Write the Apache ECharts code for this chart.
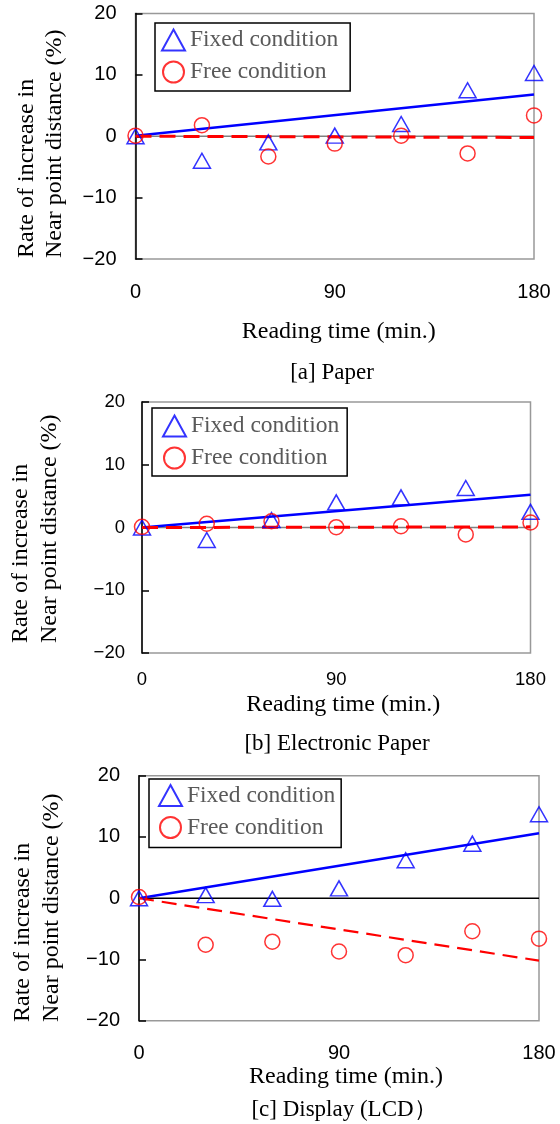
<!DOCTYPE html>
<html>
<head>
<meta charset="utf-8">
<script src="https://cdn.jsdelivr.net/npm/echarts@6/dist/echarts.min.js"></script>
<style>
html,body{margin:0;padding:0;background:#fff;}
#chart{width:560px;height:1124px;}
</style>
</head>
<body>
<div id="chart"></div>
<script>
// ---- data ----
const times = [0, 30, 60, 90, 120, 150, 180];
const trendTimes = [0, 180];
const zeroValues = [0, 0];
const seriesNames = ['Fixed condition', 'Free condition'];
const xTitle = 'Reading time (min.)';
const yTitle = ['Rate of increase in', 'Near point distance (%)'];
const panelCaptions = ['[a] Paper', '[b] Electronic Paper', '[c] Display (LCD\uFF09'];

const paperFixed = [0, -4.0, -1.0, 0.1, 2.0, 7.5, 10.3];
const paperFree = [0.1, 1.8, -3.3, -1.2, 0.1, -2.8, 3.4];
const paperFixedTrend = [0.1, 6.8];
const paperFreeTrend = [0, -0.2];

const ePaperFixed = [0, -2.0, 1.2, 4.0, 4.8, 6.3, 2.5];
const ePaperFree = [0.1, 0.6, 1.0, 0.05, 0.2, -1.1, 0.8];
const ePaperFixedTrend = [0, 5.2];
const ePaperFreeTrend = [0, 0.1];

const lcdFixed = [0, 0.5, -0.1, 1.6, 6.2, 8.9, 13.7];
const lcdFree = [0.2, -7.6, -7.1, -8.7, -9.3, -5.4, -6.6];
const lcdFixedTrend = [0, 10.6];
const lcdFreeTrend = [0, -10.2];

const xMin = 0, xMax = 180, xInterval = 90;
const yMin = -20, yMax = 20, yInterval = 10;

const panelData = [
  {fixed: paperFixed, free: paperFree, fixedTrend: paperFixedTrend, freeTrend: paperFreeTrend},
  {fixed: ePaperFixed, free: ePaperFree, fixedTrend: ePaperFixedTrend, freeTrend: ePaperFreeTrend},
  {fixed: lcdFixed, free: lcdFree, fixedTrend: lcdFixedTrend, freeTrend: lcdFreeTrend}
];

// ---- layout / style ----
const SERIF = 'Liberation Serif, Times New Roman, serif';
const SANS = 'Liberation Sans, Arial, sans-serif';
const BLUE = '#0000ff', RED = '#ff0000';
const layout = [
  {grid: {left: 135.5, top: 13.5, width: 398.5, height: 245.5}, tickFont: 20, yMargin: 19, xMargin: 23,
   xNameGap: 61, xNamePad: 8, zeroColor: '#808080', freeWidth: 3, freeDash: [16, 8],
   legend: {left: 155, top: 23, padding: [5, 12, 7, 6]},
   yTitle: {x: 41, y: 258, lh: 28}, caption: {x: 332, y: 373}},
  {grid: {left: 142, top: 402, width: 388.5, height: 251}, tickFont: 18.5, yMargin: 17, xMargin: 17,
   xNameGap: 40, xNamePad: 14, zeroColor: '#808080', freeWidth: 3, freeDash: [16, 8],
   legend: {left: 152, top: 408, padding: [6, 8, 6, 10]},
   yTitle: {x: 35.5, y: 643, lh: 29}, caption: {x: 337, y: 744}},
  {grid: {left: 139, top: 775.7, width: 400, height: 245}, tickFont: 20, yMargin: 19, xMargin: 23,
   xNameGap: 40, xNamePad: 14, zeroColor: '#000000', freeWidth: 2.2, freeDash: [15, 8],
   legend: {left: 149, top: 779, padding: [4.5, 6, 8, 9]},
   yTitle: {x: 37.5, y: 1022, lh: 29}, caption: {x: 344, y: 1110}}
];

const minus = v => String(v).replace('-', '\u2212');

const grids = layout.map(p => Object.assign({show: true, borderColor: '#999', borderWidth: 1.5,
  backgroundColor: 'transparent', containLabel: false}, p.grid));

const xAxes = layout.map((p, i) => ({
  gridIndex: i, type: 'value', min: xMin, max: xMax, interval: xInterval,
  axisLine: {show: false}, axisTick: {show: false}, splitLine: {show: false},
  axisLabel: {fontFamily: SANS, fontSize: p.tickFont, color: '#000', margin: p.xMargin},
  name: xTitle, nameLocation: 'middle', nameGap: p.xNameGap,
  nameTextStyle: {fontFamily: SERIF, fontSize: 24, color: '#000', padding: [0, 0, 0, p.xNamePad]}
}));

const yAxes = layout.map((p, i) => ({
  gridIndex: i, type: 'value', min: yMin, max: yMax, interval: yInterval,
  axisLine: {show: true, onZero: false, lineStyle: {color: '#000', width: 1.5}},
  axisTick: {show: true, inside: true, length: 7, lineStyle: {color: '#000', width: 1.5}},
  splitLine: {show: false},
  axisLabel: {fontFamily: SANS, fontSize: p.tickFont, color: '#000', margin: p.yMargin, formatter: minus}
}));

const series = [];
panelData.forEach((d, i) => {
  const p = layout[i];
  series.push({
    name: 'zero' + i, type: 'line', xAxisIndex: i, yAxisIndex: i, z: 1, silent: true,
    data: trendTimes.map((t, j) => [t, zeroValues[j]]), symbol: 'none',
    lineStyle: {color: p.zeroColor, width: 1.5}
  });
  series.push({
    name: 'fixedTrend' + i, type: 'line', xAxisIndex: i, yAxisIndex: i, z: 2, silent: true,
    data: trendTimes.map((t, j) => [t, d.fixedTrend[j]]), symbol: 'none',
    lineStyle: {color: BLUE, width: 2.5}
  });
  series.push({
    name: 'freeTrend' + i, type: 'line', xAxisIndex: i, yAxisIndex: i, z: 2, silent: true,
    data: trendTimes.map((t, j) => [t, d.freeTrend[j]]), symbol: 'none',
    lineStyle: {color: RED, width: p.freeWidth, type: p.freeDash}
  });
  series.push({
    name: seriesNames[0], type: 'scatter', xAxisIndex: i, yAxisIndex: i, z: 3,
    data: times.map((t, j) => [t, d.fixed[j]]), symbol: 'triangle', symbolSize: [17, 15],
    itemStyle: {color: 'transparent', borderColor: BLUE, borderWidth: 1.5}
  });
  series.push({
    name: seriesNames[1], type: 'scatter', xAxisIndex: i, yAxisIndex: i, z: 3,
    data: times.map((t, j) => [t, d.free[j]]), symbol: 'circle', symbolSize: 15,
    itemStyle: {color: 'transparent', borderColor: RED, borderWidth: 1.5}
  });
});

const legends = layout.map(p => ({
  orient: 'vertical', left: p.legend.left, top: p.legend.top, padding: p.legend.padding,
  itemWidth: 23, itemHeight: 21, itemGap: 8, selectedMode: false,
  borderColor: '#000', borderWidth: 1.5, backgroundColor: '#fff',
  textStyle: {fontFamily: SERIF, fontSize: 23.5, color: '#595959'},
  data: [
    {name: seriesNames[0], icon: 'triangle', itemStyle: {color: 'transparent', borderColor: BLUE, borderWidth: 2}},
    {name: seriesNames[1], icon: 'circle', itemStyle: {color: 'transparent', borderColor: RED, borderWidth: 2}}
  ]
}));

const graphics = [];
layout.forEach((p, i) => {
  graphics.push({
    type: 'text', x: p.yTitle.x, y: p.yTitle.y, rotation: Math.PI / 2,
    style: {text: yTitle.join('\n'), fontFamily: SERIF, fontSize: 24, lineHeight: p.yTitle.lh,
      fill: '#000', align: 'left', verticalAlign: 'middle'}
  });
  graphics.push({
    type: 'text', x: p.caption.x, y: p.caption.y,
    style: {text: panelCaptions[i], fontFamily: SERIF, fontSize: 23, fill: '#000',
      align: 'center', verticalAlign: 'middle'}
  });
});

const chart = echarts.init(document.getElementById('chart'), null, {renderer: 'canvas'});
chart.setOption({
  animation: false,
  backgroundColor: '#fff',
  grid: grids,
  xAxis: xAxes,
  yAxis: yAxes,
  legend: legends,
  series: series,
  graphic: graphics
});
</script>
</body>
</html>
